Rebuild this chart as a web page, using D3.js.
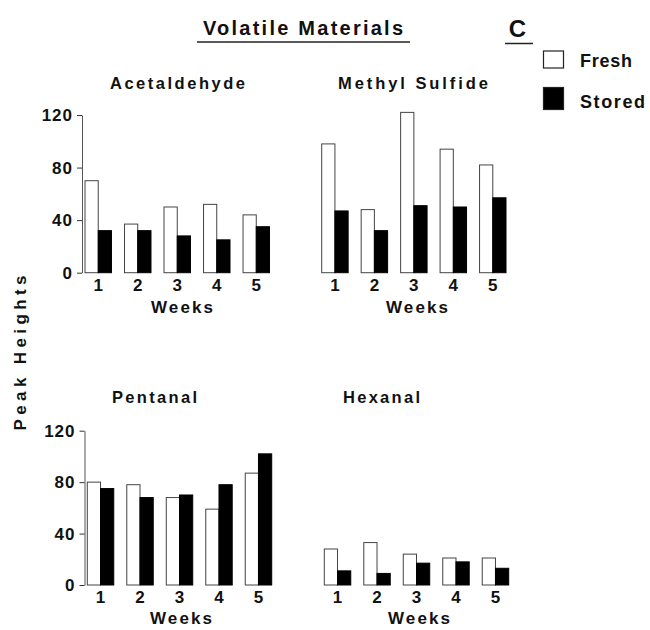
<!DOCTYPE html>
<html>
<head>
<meta charset="utf-8">
<script src="https://cdn.jsdelivr.net/npm/d3@7"></script>
<style>
  body { margin: 0; background: #fff; }
  svg text { font-family: "Liberation Sans", Arial, sans-serif; font-weight: bold; fill: #111; }
</style>
</head>
<body>
<div id="graphicContainer"></div>
<script>
// values
var weeks = [1, 2, 3, 4, 5];
var seriesNames = ["Fresh", "Stored"];
var yTicks = [0, 40, 80, 120];

var acetFresh  = [70, 37, 50, 52, 44];
var acetStored = [32, 32, 28, 25, 35];
var methFresh  = [98, 48, 122, 94, 82];
var methStored = [47, 32, 51, 50, 57];
var pentFresh  = [80, 78, 68, 59, 87];
var pentStored = [75, 68, 70, 78, 102];
var hexFresh   = [28, 33, 24, 21, 21];
var hexStored  = [11, 9, 17, 18, 13];

var width = 650, height = 630;

var svg = d3.select("#graphicContainer").append("svg")
  .attr("width", width)
  .attr("height", height);

// panel layout
var panels = [
  {name: "Acetaldehyde", fresh: acetFresh, stored: acetStored, x0: 85, x1: 269.5, row: 0, axisX: 82,
   title: {x: 110, y: 89, len: 135}, weeks: {x: 182, y: 313}},
  {name: "Methyl Sulfide", fresh: methFresh, stored: methStored, x0: 321.7, x1: 506, row: 0, axisX: null,
   title: {x: 338, y: 89, len: 150}, weeks: {x: 417, y: 313}},
  {name: "Pentanal", fresh: pentFresh, stored: pentStored, x0: 87.3, x1: 271.7, row: 1, axisX: 84.5,
   title: {x: 112, y: 403, len: 85}, weeks: {x: 181, y: 624}},
  {name: "Hexanal", fresh: hexFresh, stored: hexStored, x0: 324.3, x1: 508.7, row: 1, axisX: null,
   title: {x: 343, y: 403, len: 77}, weeks: {x: 419, y: 624}}
];

var rows = [
  {y0: 272.7, y120: 115, weekY: 291},
  {y0: 585, y120: 430.7, weekY: 603}
];

panels.forEach(function(p) {
  var r = rows[p.row];
  var y = d3.scaleLinear().domain([0, 120]).range([r.y0, r.y120]);
  var x = d3.scaleBand().domain(weeks).range([p.x0, p.x1]).paddingInner(0.33).paddingOuter(0);
  var xs = d3.scaleBand().domain(seriesNames).range([0, x.bandwidth()]);

  var g = svg.append("g");

  var data = weeks.map(function(w, i) {
    return {week: w, vals: [{s: "Fresh", v: p.fresh[i]}, {s: "Stored", v: p.stored[i]}]};
  });

  var groups = g.selectAll(".grp")
    .data(data)
    .enter().append("g")
    .attr("transform", d => "translate(" + x(d.week) + ",0)");

  groups.selectAll("rect")
    .data(d => d.vals)
    .enter().append("rect")
    .attr("x", d => xs(d.s))
    .attr("y", d => y(d.v))
    .attr("width", xs.bandwidth())
    .attr("height", d => y(0) - y(d.v))
    .attr("fill", d => d.s == "Fresh" ? "#fff" : "#000")
    .attr("stroke", d => d.s == "Fresh" ? "#444" : "#000")
    .attr("stroke-width", 1);

  // week numbers
  g.selectAll(".wk")
    .data(weeks)
    .enter().append("text")
    .attr("x", d => x(d) + x.bandwidth() / 2)
    .attr("y", r.weekY)
    .attr("text-anchor", "middle")
    .style("font-size", "17px")
    .text(d => d);

  g.append("text")
    .attr("x", p.weeks.x)
    .attr("y", p.weeks.y)
    .attr("text-anchor", "middle")
    .attr("textLength", 62)
    .attr("lengthAdjust", "spacing")
    .style("font-size", "17px")
    .text("Weeks");

  g.append("text")
    .attr("x", p.title.x)
    .attr("y", p.title.y)
    .attr("textLength", p.title.len)
    .attr("lengthAdjust", "spacing")
    .style("font-size", "16.5px")
    .text(p.name);

  if (p.axisX != null) {
    var ax = g.append("g")
      .attr("transform", "translate(" + p.axisX + ",0)")
      .call(d3.axisLeft(y).tickValues(yTicks).tickSize(5).tickSizeOuter(0).tickPadding(4));
    ax.select(".domain").attr("stroke", "#555");
    ax.selectAll(".tick line").attr("stroke", "#333");
    ax.selectAll(".tick text")
      .attr("fill", "#111")
      .style("font-family", "'Liberation Sans', Arial, sans-serif")
      .style("font-weight", "bold")
      .style("font-size", "17px")
      .style("letter-spacing", "1px");
  }
});

// title
svg.append("text")
  .attr("x", 203).attr("y", 35)
  .attr("textLength", 200)
  .attr("lengthAdjust", "spacing")
  .style("font-size", "20px")
  .text("Volatile Materials");
svg.append("line")
  .attr("x1", 197).attr("x2", 410).attr("y1", 42).attr("y2", 42)
  .attr("stroke", "#222").attr("stroke-width", 1.5);

svg.append("text")
  .attr("x", 517.5).attr("y", 36.5)
  .attr("text-anchor", "middle")
  .style("font-size", "24px")
  .text("C");
svg.append("line")
  .attr("x1", 505).attr("x2", 533).attr("y1", 43.5).attr("y2", 43.5)
  .attr("stroke", "#222").attr("stroke-width", 1.5);

// y label
svg.append("text")
  .attr("transform", "translate(26,353) rotate(-90)")
  .attr("text-anchor", "middle")
  .attr("textLength", 155)
  .attr("lengthAdjust", "spacing")
  .style("font-size", "17px")
  .text("Peak Heights");

// legend
var legend = [
  {name: "Fresh", box: [543.5, 51, 20, 17], ty: 67, len: 52},
  {name: "Stored", box: [543.5, 87.5, 20, 22], ty: 108, len: 65}
];
legend.forEach(function(l) {
  svg.append("rect")
    .attr("x", l.box[0]).attr("y", l.box[1])
    .attr("width", l.box[2]).attr("height", l.box[3])
    .attr("fill", l.name == "Fresh" ? "#fff" : "#000")
    .attr("stroke", "#222").attr("stroke-width", 1.2);
  svg.append("text")
    .attr("x", 580).attr("y", l.ty)
    .attr("textLength", l.len)
    .attr("lengthAdjust", "spacing")
    .style("font-size", "18px")
    .text(l.name);
});
</script>
</body>
</html>
